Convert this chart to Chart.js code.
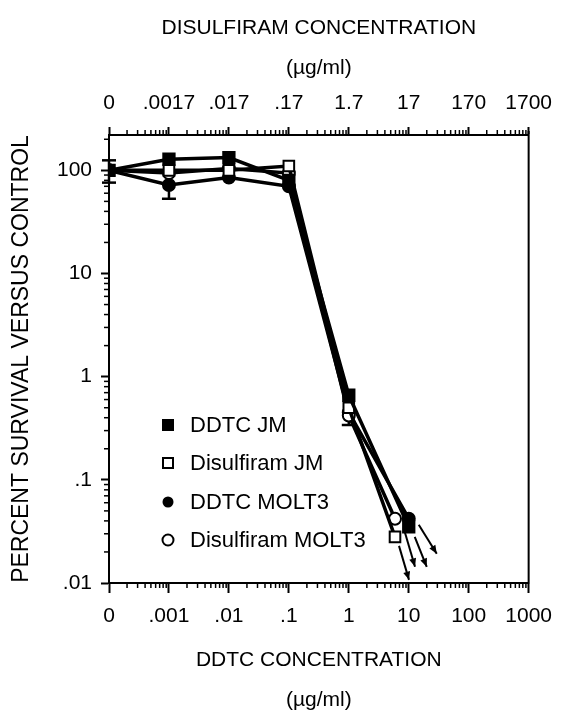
<!DOCTYPE html>
<html><head><meta charset="utf-8">
<script src="https://cdn.jsdelivr.net/npm/chart.js@4/dist/chart.umd.min.js"></script>
<style>html,body{margin:0;padding:0;background:#fff}</style>
</head><body>
<canvas id="c" width="563" height="713"></canvas>
<script>
// ---- data ----
const seriesNames = ['DDTC JM', 'Disulfiram JM', 'DDTC MOLT3', 'Disulfiram MOLT3'];
const xDDTC       = [0.0001, 0.001, 0.01, 0.1, 1, 10];
const xDisulfiram = [0.0001, 0.001, 0.01, 0.1, 1, 5.9];
const ddtcJM          = [100, 128, 133, 80, 0.66, 0.035];
const disulfiramJM    = [100, 100, 100, 110, 0.50, 0.028];
const ddtcMOLT3       = [100, 72, 85, 70, 0.45, 0.042];
const disulfiramMOLT3 = [100, 94, 104, 94, 0.42, 0.042];
const errLowMOLT3  = [76, 53, null, null, 0.34, null];
const errHighMOLT3 = [125, null, null, null, null, null];
const bottomTickValues = [0.0001, 0.001, 0.01, 0.1, 1, 10, 100, 1000];
const bottomTickLabels = ['0', '.001', '.01', '.1', '1', '10', '100', '1000'];
const topTickLabels    = ['0', '.0017', '.017', '.17', '1.7', '17', '170', '1700'];
const yTickValues = [0.01, 0.1, 1, 10, 100];
const yTickLabels = ['.01', '.1', '1', '10', '100'];
const xMin = 0.0001, xMax = 1000, yMin = 0.01, yMax = 220;

const FONT = "'Liberation Sans', Arial, Helvetica, sans-serif";
Chart.defaults.font.family = FONT;
Chart.defaults.color = '#000';

function pts(xs, ys) { return xs.map((x, i) => ({x: x, y: ys[i]})); }

const styles = [
  {pointStyle: 'rect', bg: '#000', r: 8},
  {pointStyle: 'rect', bg: '#fff', r: 7.5},
  {pointStyle: 'circle', bg: '#000', r: 6},
  {pointStyle: 'circle', bg: '#fff', r: 6}
];
const seriesData = [pts(xDDTC, ddtcJM), pts(xDisulfiram, disulfiramJM), pts(xDDTC, ddtcMOLT3), pts(xDisulfiram, disulfiramMOLT3)];
const orders = [1, 2, 4, 3];

const datasets = seriesData.map((d, i) => ({
  label: seriesNames[i], data: d, showLine: true,
  borderColor: '#000', borderWidth: 3.5,
  pointStyle: styles[i].pointStyle, pointRadius: styles[i].r, pointHoverRadius: styles[i].r,
  pointBackgroundColor: styles[i].bg, pointBorderColor: '#000', pointBorderWidth: 2,
  order: orders[i]
}));

function line(ctx, x1, y1, x2, y2) { ctx.beginPath(); ctx.moveTo(x1, y1); ctx.lineTo(x2, y2); ctx.stroke(); }

const decorPlugin = {
  id: 'decor',
  beforeDatasetsDraw(chart) {
    const ctx = chart.ctx, xs = chart.scales.x, ys = chart.scales.y;
    ctx.save(); ctx.strokeStyle = '#000'; ctx.lineWidth = 2.5;
    xDDTC.forEach((xv, i) => {
      const px = xs.getPixelForValue(xv);
      const py = ys.getPixelForValue(ddtcMOLT3[i]);
      [errLowMOLT3[i], errHighMOLT3[i]].forEach(e => {
        if (e == null) return;
        const pe = ys.getPixelForValue(e);
        line(ctx, px, py, px, pe);
        line(ctx, px - 7, pe, px + 7, pe);
      });
    });
    ctx.restore();
  },
  afterDraw(chart) {
    const ctx = chart.ctx, ca = chart.chartArea;
    const xs = chart.scales.x, ys = chart.scales.y;
    ctx.save(); ctx.strokeStyle = '#000'; ctx.lineWidth = 1.5;
    // minor ticks
    for (let d = -4; d < 3; d++) for (let k = 2; k < 10; k++) {
      const px = xs.getPixelForValue(k * Math.pow(10, d));
      line(ctx, px, ca.bottom, px, ca.bottom + 5);
      line(ctx, px, ca.top, px, ca.top - 5);
    }
    for (let d = -2; d < 3; d++) for (let k = 2; k < 10; k++) {
      const v = k * Math.pow(10, d); if (v > yMax) break;
      const py = ys.getPixelForValue(v);
      line(ctx, ca.left - 5, py, ca.left, py);
    }
    // right frame
    ctx.lineWidth = 2;
    line(ctx, ca.right, ca.top - 4, ca.right, ca.bottom + 1);
    // arrows from last points
    const arrowOffsets = [[6, 10, 18, 40], [4, 9, 14, 43], [10, 6, 28, 35], [10, 14, 20, 48]];
    chart.data.datasets.forEach((ds, i) => {
      const meta = chart.getDatasetMeta(i);
      const p = meta.data[meta.data.length - 1];
      const o = arrowOffsets[i];
      const x1 = p.x + o[0], y1 = p.y + o[1], x2 = p.x + o[2], y2 = p.y + o[3];
      ctx.lineWidth = 2;
      line(ctx, x1, y1, x2, y2);
      const a = Math.atan2(y2 - y1, x2 - x1), L = 9, W = 0.4;
      ctx.beginPath(); ctx.moveTo(x2, y2);
      ctx.lineTo(x2 - L * Math.cos(a - W), y2 - L * Math.sin(a - W));
      ctx.lineTo(x2 - L * Math.cos(a + W), y2 - L * Math.sin(a + W));
      ctx.closePath(); ctx.fillStyle = '#000'; ctx.fill();
    });
    // legend
    ctx.font = '22px ' + FONT; ctx.textBaseline = 'middle'; ctx.textAlign = 'left';
    const rows = [290, 328, 367, 405];
    seriesNames.forEach((name, i) => {
      const mx = ca.left + 59, my = ca.top + rows[i];
      ctx.lineWidth = 2; ctx.fillStyle = '#000'; ctx.strokeStyle = '#000';
      if (i === 0) ctx.fillRect(mx - 6, my - 6, 12, 12);
      else if (i === 1) { ctx.fillStyle = '#fff'; ctx.fillRect(mx - 5, my - 5, 10, 10); ctx.strokeRect(mx - 5, my - 5, 10, 10); }
      else { ctx.beginPath(); ctx.arc(mx, my, 5.5, 0, Math.PI * 2); if (i === 2) ctx.fill(); else { ctx.fillStyle = '#fff'; ctx.fill(); ctx.stroke(); } }
      ctx.fillStyle = '#000';
      ctx.fillText(name, ca.left + 81, my + 1);
    });
    ctx.restore();
  }
};

new Chart(document.getElementById('c'), {
  type: 'scatter',
  data: {datasets: datasets},
  plugins: [decorPlugin],
  options: {
    responsive: false, animation: false,
    layout: {padding: {left: 0, right: 31, top: 0, bottom: 0}},
    plugins: {legend: {display: false}, tooltip: {enabled: false}},
    scales: {
      x: {
        type: 'logarithmic', position: 'bottom', min: xMin, max: xMax,
        afterBuildTicks: s => { s.ticks = bottomTickValues.map(v => ({value: v})); },
        afterFit: s => { s.height = 130; },
        ticks: {autoSkip: false, maxRotation: 0, padding: 11, font: {size: 21}, color: '#000',
          callback: (v, i) => bottomTickLabels[i]},
        grid: {drawOnChartArea: false, drawTicks: true, tickLength: 10, tickColor: '#000', tickWidth: 2},
        border: {display: true, color: '#000', width: 2},
        title: {display: true, text: ['DDTC CONCENTRATION', '(\u00b5g/ml)'], font: {size: 21, lineHeight: 1.905}, color: '#000', padding: {top: 0, bottom: -7}}
      },
      x2: {
        type: 'logarithmic', position: 'top', min: xMin, max: xMax,
        afterBuildTicks: s => { s.ticks = bottomTickValues.map(v => ({value: v})); },
        afterFit: s => { s.height = 135; },
        ticks: {autoSkip: false, maxRotation: 0, padding: 11, font: {size: 21}, color: '#000',
          callback: (v, i) => topTickLabels[i]},
        grid: {drawOnChartArea: false, drawTicks: true, tickLength: 8, tickColor: '#000', tickWidth: 2},
        border: {display: true, color: '#000', width: 2},
        title: {display: true, text: ['DISULFIRAM CONCENTRATION', '(\u00b5g/ml)'], font: {size: 21, lineHeight: 1.905}, color: '#000', padding: {top: 8, bottom: 0}}
      },
      y: {
        type: 'logarithmic', position: 'left', min: yMin, max: yMax,
        afterBuildTicks: s => { s.ticks = yTickValues.map(v => ({value: v})); },
        afterFit: s => { s.width = 109; },
        ticks: {autoSkip: false, padding: 9, font: {size: 21}, color: '#000',
          callback: (v, i) => yTickLabels[i]},
        grid: {drawOnChartArea: false, drawTicks: true, tickLength: 8, tickColor: '#000', tickWidth: 2},
        border: {display: true, color: '#000', width: 2},
        title: {display: true, text: 'PERCENT SURVIVAL VERSUS CONTROL', font: {size: 23}, color: '#000', padding: {top: 8, bottom: 0}}
      }
    }
  }
});
</script>
</body></html>
